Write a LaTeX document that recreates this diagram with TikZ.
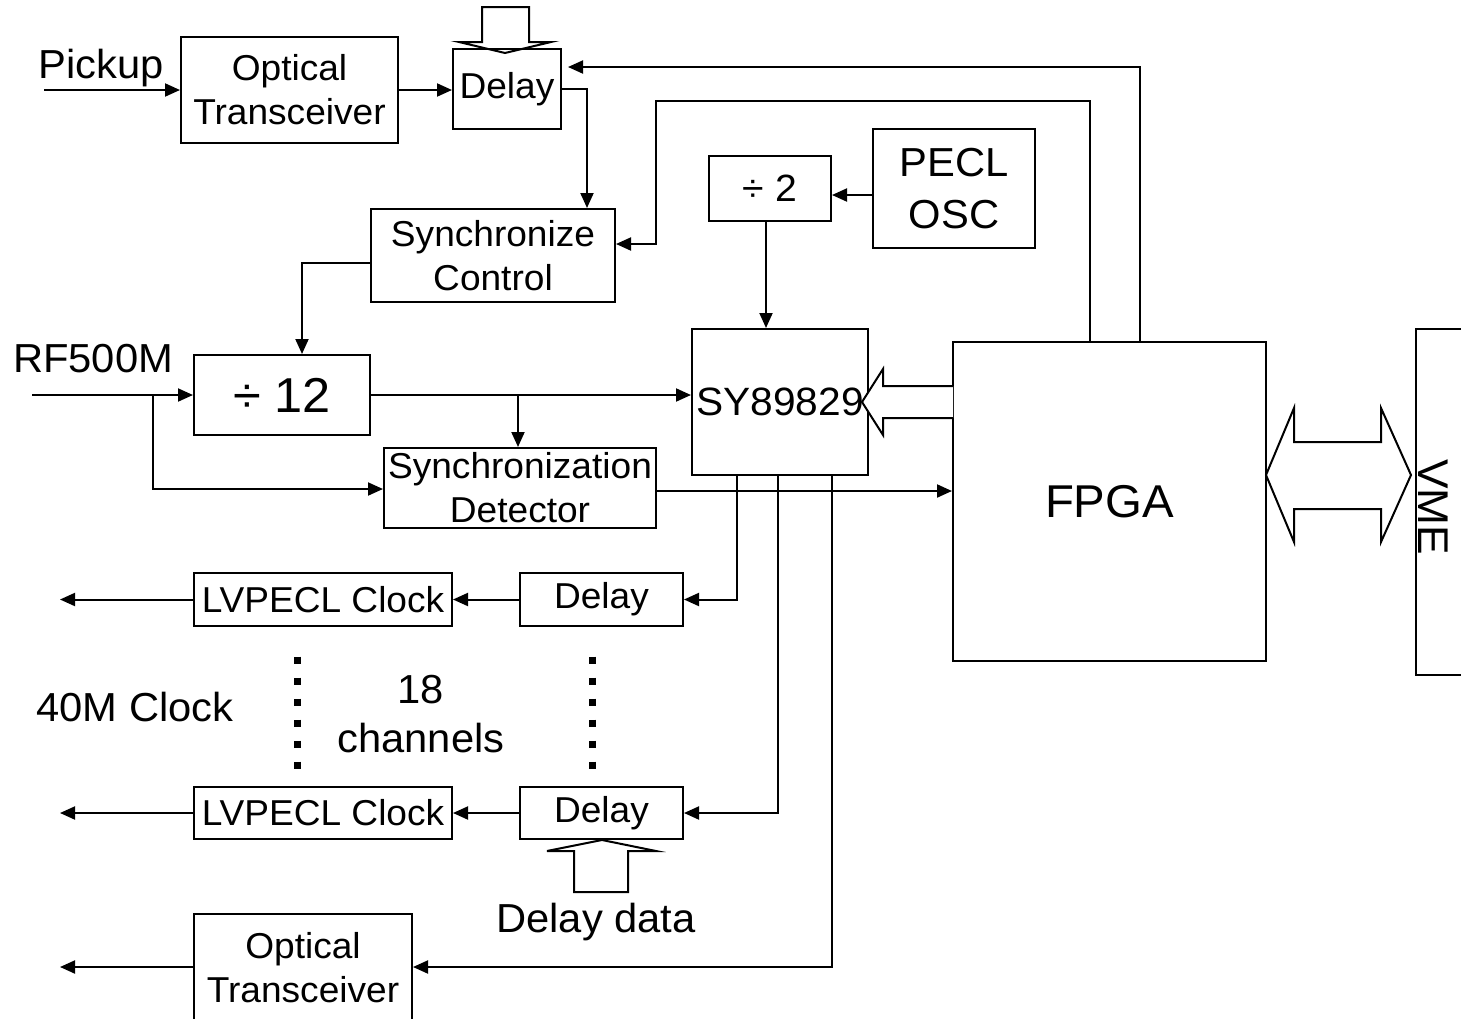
\documentclass[tikz,border=0pt]{standalone}
\usepackage{fontspec}
\setmainfont[FakeStretch=1.03]{Liberation Sans}
\usetikzlibrary{arrows.meta,calc}
\newcommand\fsz[2]{\fontsize{#1pt}{#2pt}\selectfont}
\begin{document}
\begin{tikzpicture}[x=1pt,y=-1pt,
  blk/.style={draw, line width=2pt, rectangle, inner sep=0pt, align=center, font=\fsz{36}{44}},
  ln/.style={line width=2pt},
  arr/.style={line width=2pt, -{Triangle[length=15pt,width=13pt]}},
  hollow/.style={draw, line width=2pt, line join=miter},
  lbl/.style={inner sep=0pt, anchor=base, font=\fsz{40.5}{50}, align=center},
  dots/.style={line width=7pt, dash pattern=on 7pt off 14pt}
]
\useasboundingbox (0,0) rectangle (1461,1018);
\clip (0,0) rectangle (1461,1018);

% blocks
\node[blk, minimum width=217pt, minimum height=106pt] (ot1) at (289.5,90) {Optical\\Transceiver};
\node[blk, minimum width=108pt, minimum height=80pt] (d1) at (507,89) {Delay};
\node[blk, minimum width=244pt, minimum height=93pt] (sc) at (493,255.5) {Synchronize\\Control};
\node[blk, minimum width=122pt, minimum height=65pt, font=\fsz{38}{44}] (div2) at (770,188.5) {÷ 2};
\node[blk, minimum width=162pt, minimum height=119pt, font=\fsz{40.5}{52}] (pecl) at (954,188.5) {PECL\\OSC};
\node[blk, minimum width=176pt, minimum height=80pt, font=\fsz{49}{50}] (div12) at (282,395) {÷ 12};
\node[blk, minimum width=176pt, minimum height=146pt] (sy) at (780,402) {};
\node[blk, minimum width=272pt, minimum height=80pt] (sd) at (520,488) {Synchronization\\Detector};
\node[blk, minimum width=313pt, minimum height=319pt, font=\fsz{46}{50}] (fpga) at (1109.5,501.5) {FPGA};
\node[blk, minimum width=90pt, minimum height=346pt] (vme) at (1461,502) {};
\node[blk, minimum width=163pt, minimum height=53pt] (dl1) at (601.5,599.5) {Delay};
\node[blk, minimum width=258pt, minimum height=53pt] (lv1) at (323,599.5) {LVPECL Clock};
\node[blk, minimum width=163pt, minimum height=52pt] (dl2) at (601.5,813) {Delay};
\node[blk, minimum width=258pt, minimum height=52pt] (lv2) at (323,813) {LVPECL Clock};
\node[blk, minimum width=218pt, minimum height=108pt] (ot2) at (303,968) {Optical\\Transceiver};

% hollow arrows
\draw[hollow] (482,7) -- (482,42) -- (459,42) -- (505,53) -- (551,42) -- (529,42) -- (529,7) -- cycle;
\draw[hollow, fill=white] (953,386) -- (883,386) -- (883,369) -- (862,402) -- (883,435) -- (883,418) -- (953,418);
\node[inner sep=0pt, font=\fsz{39.5}{44}] at (sy.center) {SY89829};
\draw[hollow] (1266,475) -- (1294,408) -- (1294,442) -- (1381,442) -- (1381,408) -- (1411,475)
  -- (1381,542) -- (1381,509) -- (1294,509) -- (1294,542) -- cycle;
\draw[hollow] (574,892) -- (574,851) -- (547,851) -- (602,840) -- (656,851) -- (628,851) -- (628,892) -- cycle;

% labels
\node[lbl] at (101,78) {Pickup};
\node[lbl] at (93,372) {RF500M};
\node[lbl] at (135,721) {40M Clock};
\node[lbl] at (421,703) {18};
\node[lbl] at (421,752) {channels};
\node[lbl] at (596,932) {Delay data};
\node[inner sep=0pt, rotate=-90, font=\fsz{43}{44}] at (1433,507) {VME};

% connectors
\coordinate (pk) at (44,90);
\draw[arr] (pk) -- (pk -| ot1.west);
\draw[arr] (ot1.east) -- (ot1.east -| d1.west);
\draw[arr] (d1.east) -| ([xshift=94pt]sc.north);
\draw[arr] (fpga.north -| 1140,0) |- ($(d1.north east)+(6,19)$);
\draw[arr] (fpga.north -| 1090,0) |- (656,101) |- (sc.east |- 0,244);
\draw[arr] (pecl.west |- 0,195) -- (div2.east |- 0,195);
\draw[arr] (div2.south -| 766,0) -- (sy.north -| 766,0);
\draw[arr] (sc.west |- 0,263) -| (div12.north -| 302,0);
\coordinate (rf) at (32,395);
\draw[arr] (rf) -- (rf -| div12.west);
\coordinate (jb) at (153,395);
\draw[arr] (jb) |- (sd.west |- 0,489);
\draw[arr] (div12.east) -- (sy.west |- div12.east);
\coordinate (jc) at (518,395);
\draw[arr] (jc) -- (sd.north -| jc);
\draw[arr] (sd.east |- 0,491) -- (fpga.west |- 0,491);
\draw[arr] (sy.south -| 737,0) |- (dl1.east);
\draw[arr] (sy.south -| 778,0) |- (dl2.east);
\draw[arr] (sy.south -| 832,0) |- (ot2.east |- 0,967);
\draw[arr] (dl1.west) -- (lv1.east);
\draw[arr] (dl2.west) -- (lv2.east);
\coordinate (o1) at (60,599.5);
\coordinate (o2) at (60,813);
\coordinate (o3) at (60,967);
\draw[arr] (lv1.west) -- (o1);
\draw[arr] (lv2.west) -- (o2);
\draw[arr] (ot2.west |- o3) -- (o3);

% dotted channel indicators
\draw[dots] (297,656.5) -- (297,775);
\draw[dots] (592,656.5) -- (592,775);
\end{tikzpicture}
\end{document}
